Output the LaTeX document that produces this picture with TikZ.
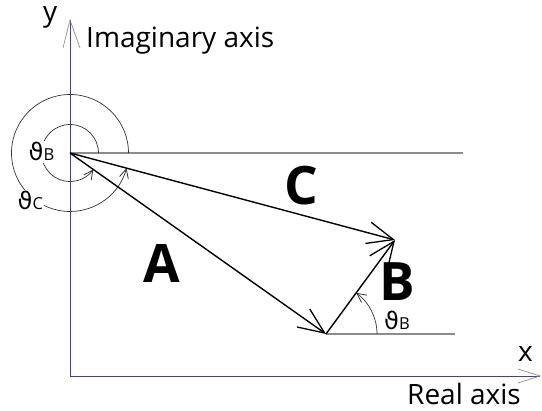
\documentclass[tikz,border=0pt]{standalone}
\usepackage{fontspec}
\setmainfont{Open Sans}
\newfontfamily\thfont{DejaVu Sans}
\usetikzlibrary{arrows.meta,calc}
\definecolor{axiscol}{RGB}{64,64,150}
\definecolor{refgray}{RGB}{140,140,140}
\newcommand{\angsym}[1]{{\thfont\fontsize{24}{24}\selectfont ϑ}{\fontsize{16.5}{16.5}\selectfont #1}}
\begin{document}
\begin{tikzpicture}[x=1pt,y=1pt,
  axisline/.style={draw=axiscol,line width=0.8pt},
  refline/.style={draw=refgray,line width=1.3pt},
  vec/.style={draw=black,line width=1.4pt,-{Straight Barb[length=26pt,width=22pt,line width=1.3pt]}},
  anglearc/.style={draw=black!80,line width=0.7pt,-{Straight Barb[length=9pt,width=9pt,line width=0.8pt]}},
  biglbl/.style={font=\fontsize{53}{53}\selectfont\bfseries,inner sep=0pt,anchor=base},
  axlbl/.style={font=\fontsize{28}{28}\selectfont,inner sep=0pt,anchor=base west},
  anglbl/.style={fill=white,inner sep=1.5pt,anchor=base west}]
\useasboundingbox (0,0) rectangle (542,411);
\coordinate (O) at (70,35);
\coordinate (P) at (70,258);
\coordinate (Q) at (326,77);
\coordinate (R) at (395,171);
\coordinate (Ytop) at (70,391);
\coordinate (Xend) at (540,35);
\coordinate (H1) at (463,258);
\coordinate (H2) at (455,77);
% reference lines
\draw[refline] (P) -- (H1);
\draw[refline] (Q) -- (H2);
% angle arcs
\draw[anglearc] ($(P)+(28.5,0)$) arc[start angle=0,end angle=324.7,radius=28.5];
\draw[anglearc] ($(P)+(58.5,0)$) arc[start angle=0,end angle=345,radius=58.5];
\draw[anglearc] ($(Q)+(51,0)$) arc[start angle=0,end angle=53.7,radius=51];
% axes
\draw[axisline] (O) -- (Ytop);
\draw[axisline] (O) -- (Xend);
\draw[draw=refgray,line width=0.7pt] (63,363) -- (Ytop) -- (80,363);
\draw[draw=refgray,line width=0.7pt] (518,42) -- (Xend) -- (518,28);
% vectors
\draw[vec] (P) -- (Q);
\draw[vec] (Q) -- (R);
\draw[vec] (P) -- (R);
% labels
\node[axlbl] (ylab) at (43,389) {y};
\node[axlbl] (imag) at (86,363) {Imaginary axis};
\node[axlbl] (xlab) at (518,49) {x};
\node[axlbl] (real) at (407,6) {Real axis};
\node[biglbl] (la) at (162,128) {A};
\node[biglbl] (lb) at (397,110) {B};
\node[biglbl] (lc) at (301,206) {C};
\node[anglbl] (tb1) at (27,250) {\angsym{B}};
\node[anglbl] (tc) at (16,201) {\angsym{C}};
\node[anglbl,fill=none,inner sep=0pt] (tb2) at (384,81) {\angsym{B}};
\end{tikzpicture}
\end{document}
